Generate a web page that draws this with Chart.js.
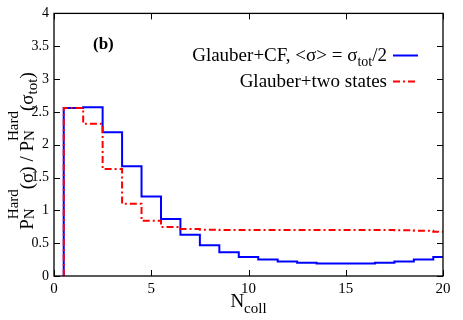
<!DOCTYPE html>
<html>
<head>
<meta charset="utf-8">
<script src="https://cdn.jsdelivr.net/npm/chart.js@4"></script>
<style>
  html, body { margin: 0; padding: 0; background: #fff; }
  #wrap { width: 463px; height: 320px; position: relative; }
</style>
</head>
<body>
<div id="wrap"><canvas id="c" width="463" height="320"></canvas></div>
<script>
// ---- data ----
const nColl = [1,2,3,4,5,6,7,8,9,10,11,12,13,14,15,16,17,18,19,20];
const glauberCF = [2.56,2.57,2.19,1.67,1.21,0.87,0.63,0.47,0.36,0.29,0.25,0.22,0.20,0.19,0.19,0.19,0.20,0.22,0.25,0.29];
const glauberTwoStates = [2.56,2.32,1.63,1.10,0.84,0.745,0.715,0.705,0.70,0.70,0.70,0.70,0.70,0.70,0.70,0.70,0.70,0.695,0.69,0.675];
const xTicks = [0,5,10,15,20];
const yTicks = [0,0.5,1,1.5,2,2.5,3,3.5,4];
const xMin = 0, xMax = 20, yMin = 0, yMax = 4;

// histogram outline from bin values (bins centred on integers)
function histPoints(xs, ys) {
  const pts = [{x: xs[0] - 0.5, y: 0}];
  xs.forEach((n, i) => {
    pts.push({x: n - 0.5, y: ys[i]});
    pts.push({x: Math.min(n + 0.5, xMax), y: ys[i]});
  });
  return pts;
}

const SERIF = '"Liberation Serif", "Times New Roman", serif';

function drawSegs(ctx, segs, x, baseline, align) {
  let widths = segs.map(s => { ctx.font = (s.bold ? 'bold ' : '') + s.size + 'px ' + SERIF; return ctx.measureText(s.t).width; });
  let total = widths.reduce((a, b) => a + b, 0);
  let cx = align === 'right' ? x - total : (align === 'center' ? x - total / 2 : x);
  segs.forEach((s, i) => {
    ctx.font = (s.bold ? 'bold ' : '') + s.size + 'px ' + SERIF;
    ctx.fillText(s.t, cx, baseline + (s.dy || 0));
    cx += widths[i];
  });
  return total;
}

const framePlugin = {
  id: 'frame',
  afterDatasetsDraw(chart) {
    const ctx = chart.ctx, a = chart.chartArea;
    const xs = chart.scales.x, ys = chart.scales.y;
    ctx.save();
    ctx.strokeStyle = '#000';
    ctx.lineWidth = 1.3;
    ctx.strokeRect(a.left, a.top, a.right - a.left, a.bottom - a.top);
    ctx.lineWidth = 1;
    const tl = 6;
    ctx.beginPath();
    yTicks.forEach(v => {
      const p = Math.round(ys.getPixelForValue(v)) + 0.5;
      ctx.moveTo(a.left, p); ctx.lineTo(a.left + tl, p);
      ctx.moveTo(a.right, p); ctx.lineTo(a.right - tl, p);
    });
    xTicks.forEach(v => {
      const p = Math.round(xs.getPixelForValue(v)) + 0.5;
      ctx.moveTo(p, a.bottom); ctx.lineTo(p, a.bottom - tl);
      ctx.moveTo(p, a.top); ctx.lineTo(p, a.top + tl);
    });
    ctx.stroke();

    ctx.fillStyle = '#000';
    ctx.textBaseline = 'alphabetic';
    ctx.textAlign = 'left';

    // panel label
    drawSegs(ctx, [{t: '(b)', size: 17, bold: true}], 93, 49, 'left');

    // legend
    const textRight = 387;
    drawSegs(ctx, [
      {t: 'Glauber+CF, <σ> = σ', size: 19},
      {t: 'tot', size: 14, dy: 5},
      {t: '/2', size: 19}
    ], textRight, 61, 'right');
    drawSegs(ctx, [{t: 'Glauber+two states', size: 19}], textRight, 87, 'right');
    ctx.lineWidth = 2;
    ctx.strokeStyle = '#0000ff';
    ctx.beginPath(); ctx.moveTo(393, 55.5); ctx.lineTo(418, 55.5); ctx.stroke();
    ctx.strokeStyle = '#ff0000';
    ctx.setLineDash([7, 3, 2, 3]);
    ctx.beginPath(); ctx.moveTo(393, 81.5); ctx.lineTo(418, 81.5); ctx.stroke();
    ctx.setLineDash([]);

    // x title
    const midX = (a.left + a.right) / 2;
    drawSegs(ctx, [
      {t: 'N', size: 19},
      {t: 'coll', size: 15, dy: 6}
    ], midX, 307, 'center');

    // y title (rotated)
    ctx.save();
    ctx.translate(33, 151);
    ctx.rotate(-Math.PI / 2);
    const main = 19, small = 15, supDy = -15, subDy = 1;
    const parts = [
      {t: 'P', kind: 'main'},
      {sup: 'Hard', sub: 'N'},
      {t: '(σ) / P', kind: 'main'},
      {sup: 'Hard', sub: 'N'},
      {t: '(σ', kind: 'main'},
      {sub: 'tot'},
      {t: ')', kind: 'main'}
    ];
    const w = p => {
      if (p.t) { ctx.font = main + 'px ' + SERIF; return ctx.measureText(p.t).width; }
      ctx.font = small + 'px ' + SERIF;
      return Math.max(p.sup ? ctx.measureText(p.sup).width : 0, p.sub ? ctx.measureText(p.sub).width : 0);
    };
    const total = parts.reduce((s, p) => s + w(p), 0);
    let x = -total / 2;
    parts.forEach(p => {
      const pw = w(p);
      if (p.t) {
        ctx.font = main + 'px ' + SERIF; ctx.fillText(p.t, x, 0);
      } else {
        ctx.font = small + 'px ' + SERIF;
        if (p.sup) ctx.fillText(p.sup, x, supDy);
        if (p.sub) ctx.fillText(p.sub, x, p.sup ? subDy : 4);
      }
      x += pw;
    });
    ctx.restore();
    ctx.restore();
  }
};

new Chart(document.getElementById('c'), {
  type: 'scatter',
  data: {
    datasets: [
      {
        label: 'Glauber+two states',
        data: histPoints(nColl, glauberTwoStates),
        showLine: true,
        borderColor: '#ff0000',
        borderWidth: 2,
        borderDash: [7, 3, 2, 3],
        pointRadius: 0,
        tension: 0,
        order: 0
      },
      {
        label: 'Glauber+CF, <σ> = σtot/2',
        data: histPoints(nColl, glauberCF),
        showLine: true,
        borderColor: '#0000ff',
        borderWidth: 2,
        pointRadius: 0,
        tension: 0,
        order: 1
      }
    ]
  },
  options: {
    responsive: false,
    animation: false,
    devicePixelRatio: 1,
    layout: { padding: { left: 0, right: 20, top: 11, bottom: 0 } },
    plugins: { legend: { display: false }, tooltip: { enabled: false } },
    scales: {
      x: {
        type: 'linear',
        min: xMin, max: xMax,
        afterBuildTicks: s => { s.ticks = xTicks.map(v => ({value: v})); },
        afterFit: s => { s.height = 44; },
        grid: { display: false, drawTicks: false },
        border: { display: false },
        ticks: { color: '#000', padding: 4, font: { family: SERIF, size: 15 }, maxRotation: 0,
                 callback: v => String(v) }
      },
      y: {
        type: 'linear',
        min: yMin, max: yMax,
        afterBuildTicks: s => { s.ticks = yTicks.map(v => ({value: v})); },
        afterFit: s => { s.width = 54; },
        grid: { display: false, drawTicks: false },
        border: { display: false },
        ticks: { color: '#000', padding: 5, font: { family: SERIF, size: 14 },
                 callback: v => String(v) }
      }
    }
  },
  plugins: [framePlugin]
});
</script>
</body>
</html>
